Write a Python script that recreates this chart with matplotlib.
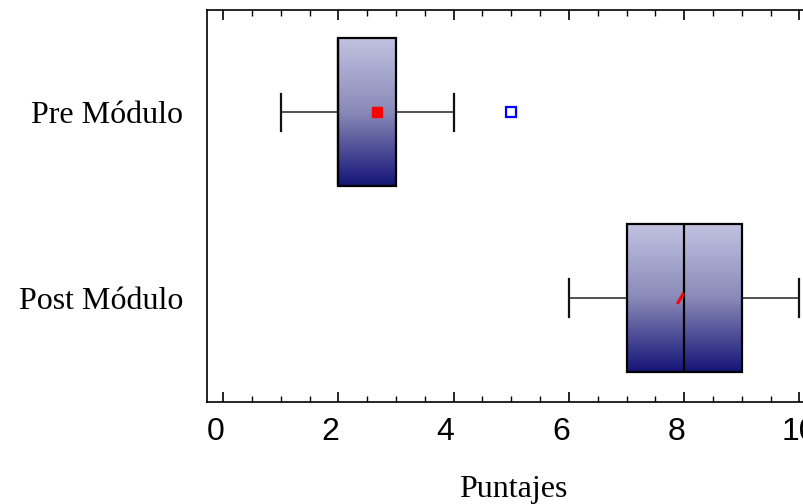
import matplotlib
matplotlib.use("Agg")
import matplotlib.pyplot as plt
import matplotlib.transforms as mtransforms
import numpy as np
from matplotlib.colors import LinearSegmentedColormap

# %%
# Data
# =======================

groups = ["Post Módulo", "Pre Módulo"]
q1 = [7.0, 2.0]
medians = [8.0, 2.0]
q3 = [9.0, 3.0]
whisker_lo = [6.0, 1.0]
whisker_hi = [10.0, 4.0]
means = [7.92, 2.67]
outliers = [[], [5.0]]

xlabel = "Puntajes"
xticks = [0, 2, 4, 6, 8, 10]

# %%
# Figure
# ======

fig = plt.figure(figsize=(8.04, 5.04), dpi=100)
ax = fig.add_axes([207 / 804, 102 / 504, 612 / 804, 392 / 504])

stats = [
    dict(label=g, q1=a, med=m, q3=b, whislo=lo, whishi=hi, mean=mu, fliers=fl)
    for g, a, m, b, lo, hi, mu, fl in zip(
        groups, q1, medians, q3, whisker_lo, whisker_hi, means, outliers
    )
]
positions = np.arange(len(groups))

bp = ax.bxp(
    stats,
    positions=positions,
    vert=False,
    widths=0.8,
    patch_artist=True,
    showfliers=False,
    showmeans=False,
    capwidths=0.2,
    boxprops=dict(facecolor="none", edgecolor="black", linewidth=1.6, zorder=3),
    medianprops=dict(color="black", linewidth=1.6, zorder=4),
    whiskerprops=dict(color="#222222", linewidth=1.1),
    capprops=dict(color="#111111", linewidth=1.6),
)

# gradient fill inside each box, light lavender on top to navy at the bottom
cmap = LinearSegmentedColormap.from_list("box", ["#141478", "#8a8ab8", "#c2c3e2"])
grad = np.linspace(0, 1, 256).reshape(-1, 1)
for box, pos, a, b in zip(bp["boxes"], positions, q1, q3):
    im = ax.imshow(
        grad,
        cmap=cmap,
        aspect="auto",
        origin="lower",
        extent=(a, b, pos - 0.4, pos + 0.4),
        zorder=2,
    )
    im.set_clip_path(box)

# means (red) and outliers (blue open squares)
ax.plot(means[1], positions[1], "s", color="red", markersize=7, zorder=5)
ax.plot(means[0], positions[0], marker=(2, 0, -30), color="red",
        markersize=9, markeredgewidth=2.2, linestyle="none", zorder=5)
for pos, fl in zip(positions, outliers):
    if fl:
        ax.plot(fl, [pos] * len(fl), "s", markerfacecolor="none",
                markeredgecolor="blue", markeredgewidth=1.6, markersize=7, zorder=5)

ax.set_xlim(-0.28, 10.34)
ax.set_ylim(-0.56, 1.55)

ax.set_yticks(positions)
ax.set_yticklabels(groups, fontfamily="Liberation Serif", fontsize=23)
ax.tick_params(axis="y", length=0, pad=17)

ax.set_xticks(xticks)
ax.set_xticks(np.arange(0, 10.5, 0.5), minor=True)
ax.set_xticklabels([str(t) for t in xticks], fontfamily="Liberation Sans", fontsize=23)
ax.tick_params(axis="x", which="major", direction="in", length=7, width=1.2,
               top=True, pad=11)
ax.tick_params(axis="x", which="minor", direction="in", length=4, width=1.0,
               top=True)

# single-digit labels sit half a digit left of their ticks in the original
shift = mtransforms.ScaledTranslation(-8 / 100, 0, fig.dpi_scale_trans)
for lab in ax.get_xticklabels():
    if len(lab.get_text()) == 1:
        lab.set_transform(lab.get_transform() + shift)

ax.set_xlabel(xlabel, fontfamily="Liberation Serif", fontsize=23, labelpad=20)

for s in ax.spines.values():
    s.set_linewidth(1.2)

fig.savefig("out.png", dpi=100)
